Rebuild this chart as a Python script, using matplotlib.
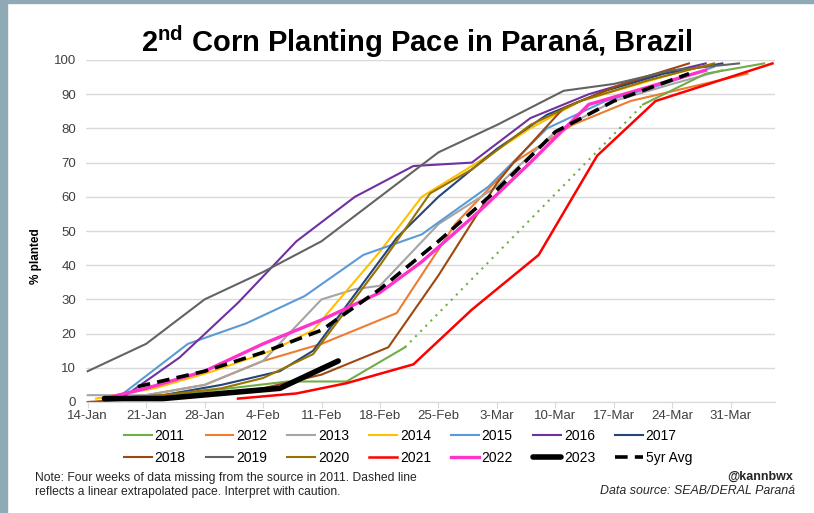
import matplotlib.pyplot as plt
from matplotlib.patches import Rectangle

plt.rcParams['font.family'] = ['Liberation Sans', 'DejaVu Sans']
plt.rcParams['mathtext.fontset'] = 'custom'
plt.rcParams['mathtext.bf'] = 'Liberation Sans:bold'
plt.rcParams['mathtext.rm'] = 'Liberation Sans'

# x values are days after 14-Jan
tick_days = [0, 7, 14, 21, 28, 35, 42, 49, 56, 63, 70, 77]
tick_labels = ['14-Jan', '21-Jan', '28-Jan', '4-Feb', '11-Feb', '18-Feb',
               '25-Feb', '3-Mar', '10-Mar', '17-Mar', '24-Mar', '31-Mar']

d2011 = [3, 10, 17, 24, 31, 38]
v2011 = [1, 2, 4, 6, 6, 16]
d2011_gap = [38, 66.5]
v2011_gap = [16, 87]
d2011_end = [66.5, 74, 81]
v2011_end = [87, 96, 99]

d2012 = [1, 7, 14, 21, 28, 37, 44, 51, 58, 65, 72, 79]
v2012 = [0, 2, 5, 12, 17, 26, 52, 70, 81, 88, 92, 96]

d2013 = [0, 7, 14, 21, 28, 32, 35, 42, 49, 56, 63, 70, 76]
v2013 = [2, 2, 5, 12, 30, 33, 34, 52, 63, 79, 88, 93, 97]

d2014 = [1, 8, 15, 22, 27, 35, 40, 46, 53, 59, 66, 73]
v2014 = [1, 4, 9, 15, 21, 44, 60, 69, 80, 88, 93, 98]

d2015 = [4, 12, 19, 26, 33, 40, 48, 55, 62, 69, 75]
v2015 = [2, 17, 23, 31, 43, 49, 63, 80, 88, 93, 98]

d2016 = [4, 11, 18, 25, 32, 39, 46, 53, 60, 67, 74]
v2016 = [1, 13, 29, 47, 60, 69, 70, 83, 90, 95, 99]

d2017 = [2, 9, 16, 23, 27, 37, 42, 49, 55, 62, 69, 76]
v2017 = [1, 2, 5, 9, 15, 48, 60, 74, 84, 91, 96, 99]

d2018 = [0, 7, 14, 21, 28, 36, 42, 49, 51, 57, 64, 72]
v2018 = [0, 1, 2, 4, 8, 16, 37, 64, 70, 86, 93, 99]

d2019 = [0, 7, 14, 21, 28, 35, 42, 49, 57, 63, 70, 78]
v2019 = [9, 17, 30, 38, 47, 60, 73, 81, 91, 93, 97, 99]

d2020 = [2, 9, 16, 21, 27, 35, 41, 46, 53, 59, 67, 75]
v2020 = [1, 2, 4, 7, 14, 40, 61, 68, 81, 88, 94, 99]

d2021 = [18, 25, 31, 39, 46, 54, 61, 68, 75, 82]
v2021 = [1, 2.5, 5.5, 11, 27, 43, 72, 88, 93.5, 99]

d2022 = [2, 7, 14, 21, 28, 35, 40, 47, 53, 60, 67, 74]
v2022 = [1, 4, 9, 17, 24, 32, 41, 56, 70, 87, 92, 97]

d2023 = [2, 9, 16, 23, 30]
v2023 = [1, 1, 2.5, 4, 12]

d_avg = [6, 14, 21, 28, 35, 42, 49, 56, 63, 72]
v_avg = [4.5, 9, 14.5, 21, 33, 47, 62, 79, 88, 96]

fig = plt.figure(figsize=(8.14, 5.13), dpi=100)
fig.patches.append(Rectangle((0, 0), 7 / 814, 1, transform=fig.transFigure,
                             color='#8fa9b6', zorder=-1))
fig.patches.append(Rectangle((0, 1 - 3 / 513), 1, 3 / 513, transform=fig.transFigure,
                             color='#8fa9b6', zorder=-1))

ax = fig.add_axes([86 / 814, 1 - 402 / 513, (775 - 86) / 814, (402 - 60) / 513])

series = [
    ('2011', d2011, v2011, '#70ad47', 1.5),
    ('2012', d2012, v2012, '#ed7d31', 1.5),
    ('2013', d2013, v2013, '#a5a5a5', 1.5),
    ('2014', d2014, v2014, '#ffc000', 1.5),
    ('2015', d2015, v2015, '#5b9bd5', 1.5),
    ('2016', d2016, v2016, '#7030a0', 1.5),
    ('2017', d2017, v2017, '#264478', 1.5),
    ('2018', d2018, v2018, '#9e480e', 1.5),
    ('2019', d2019, v2019, '#636363', 1.5),
    ('2020', d2020, v2020, '#997300', 1.5),
    ('2021', d2021, v2021, '#ff0000', 1.8),
    ('2022', d2022, v2022, '#ff33cc', 2.4),
]
handles = {}
for name, d, v, c, lw in series:
    handles[name], = ax.plot(d, v, color=c, lw=lw, label=name)
# 2011 gap in the source: dotted linear pace
ax.plot(d2011_gap, v2011_gap, color='#70ad47', lw=1.5, ls=(0, (1, 2.5)))
ax.plot(d2011_end, v2011_end, color='#70ad47', lw=1.5)

handles['2023'], = ax.plot(d2023, v2023, color='black', lw=4, label='2023',
                           solid_capstyle='round')
handles['5yr Avg'], = ax.plot(d_avg, v_avg, color='black', lw=2.6, ls=(0, (3.5, 2)),
                              label='5yr Avg')

ax.set_xlim(-0.2, 82.3)
ax.set_ylim(0, 100)
ax.set_yticks(range(0, 101, 10))
ax.set_xticks(tick_days)
ax.set_xticklabels(tick_labels)
ax.tick_params(axis='both', labelsize=9.5, colors='#404040')
ax.tick_params(axis='y', length=0, pad=7)
ax.tick_params(axis='x', length=4, color='#d9d9d9', pad=2)
ax.grid(axis='y', color='#d9d9d9', lw=1)
ax.set_axisbelow(True)
for s in ['top', 'right', 'left']:
    ax.spines[s].set_visible(False)
ax.spines['bottom'].set_color('#d9d9d9')
ax.set_ylabel('% planted', fontsize=8.5, fontweight='bold')
ax.yaxis.set_label_coords(-0.064, 0.427)

order = ['2011', '2018', '2012', '2019', '2013', '2020', '2014', '2021',
         '2015', '2022', '2016', '2023', '2017', '5yr Avg']
fig.legend([handles[k] for k in order], order, ncol=7, loc='center',
           bbox_to_anchor=(408 / 814, 1 - 447 / 513), frameon=False,
           fontsize=10, handlelength=2.0, handletextpad=0.2, columnspacing=1.45,
           labelspacing=0.55)

fig.text(417 / 814, 1 - 42 / 513, r'2$^{\mathbf{nd}}$ Corn Planting Pace in Paraná, Brazil',
         ha='center', va='center', fontsize=21, fontweight='bold')
fig.text(35 / 814, 1 - 485 / 513,
         'Note: Four weeks of data missing from the source in 2011. Dashed line\n'
         'reflects a linear extrapolated pace. Interpret with caution.',
         ha='left', va='center', fontsize=8.7, linespacing=1.2, color='#262626')
fig.text(793 / 814, 1 - 477 / 513, '@kannbwx', ha='right', va='center',
         fontsize=9, fontweight='bold', color='#262626')
fig.text(795 / 814, 1 - 491 / 513, 'Data source: SEAB/DERAL Paraná', ha='right',
         va='center', fontsize=8.9, style='italic', color='#262626')

fig.savefig('out.png', dpi=100)
